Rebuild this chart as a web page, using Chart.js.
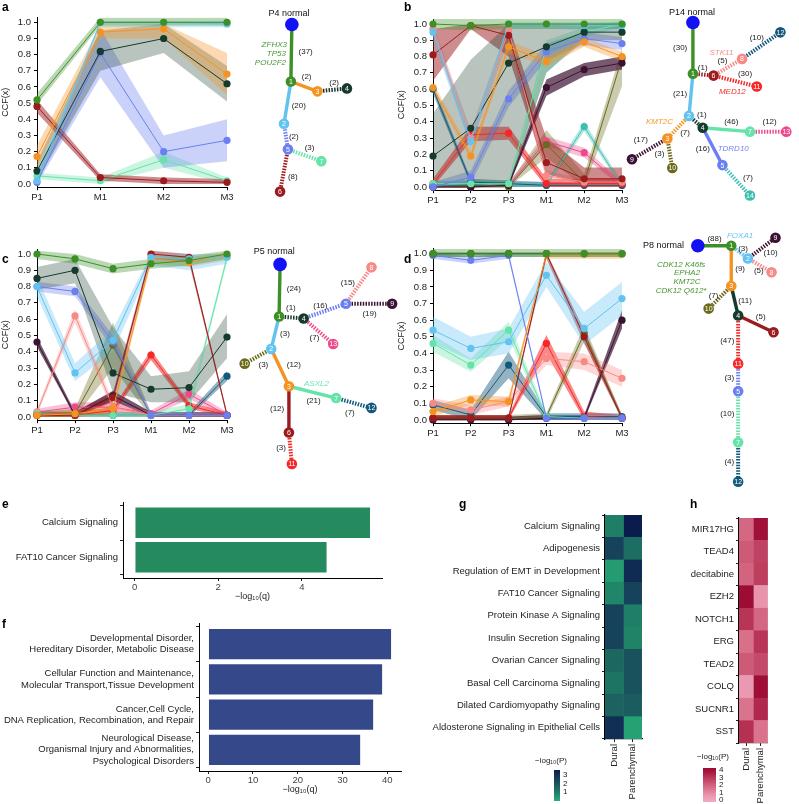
<!DOCTYPE html>
<html>
<head>
<meta charset="utf-8">
<script src="https://cdn.jsdelivr.net/npm/chart.js@4.4.1/dist/chart.umd.min.js"></script>
<style>
  body { margin: 0; width: 799px; height: 804px; position: relative; background: #fff; overflow: hidden;
         font-family: "Liberation Sans", Arial, sans-serif; }
  canvas { position: absolute; }
  .tag { position: absolute; font-weight: bold; font-size: 12px; color: #000; }
  .leg { position: absolute; font-size: 8px; color: #222; }
  .bar { position: absolute; }
</style>
</head>
<body>
<canvas id="ca" width="235" height="204" style="left:0;top:0"></canvas>
<canvas id="cb" width="234" height="207" style="left:396px;top:0"></canvas>
<canvas id="cc" width="235" height="197" style="left:0;top:240px"></canvas>
<canvas id="cd" width="234" height="200" style="left:396px;top:240px"></canvas>
<canvas id="ce" width="387" height="112" style="left:0;top:490px"></canvas>
<canvas id="cf" width="406" height="180" style="left:0;top:615px"></canvas>
<canvas id="cg" width="250" height="299" style="left:400px;top:505px"></canvas>
<canvas id="ch" width="126" height="299" style="left:650px;top:505px"></canvas>
<canvas id="trees" width="799" height="804" style="left:0;top:0;pointer-events:none"></canvas>

<div class="tag" style="left:2px;top:0">a</div>
<div class="tag" style="left:404px;top:0">b</div>
<div class="tag" style="left:2px;top:252px">c</div>
<div class="tag" style="left:404px;top:252px">d</div>
<div class="tag" style="left:2px;top:497px">e</div>
<div class="tag" style="left:2px;top:617px">f</div>
<div class="tag" style="left:459px;top:497px">g</div>
<div class="tag" style="left:690px;top:497px">h</div>

<div class="leg" style="left:535px;top:756px">−log₁₀(P)</div>
<div class="bar" id="gbar" style="left:554px;top:770px;width:6px;height:31px"></div>
<div class="leg" style="left:563px;top:771px;line-height:8.5px">3<br>2<br>1</div>
<div class="leg" style="left:697px;top:752px">−log₁₀(P)</div>
<div class="bar" id="hbar" style="left:703px;top:768px;width:13px;height:34px"></div>
<div class="leg" style="left:719px;top:766px;line-height:7.6px">4<br>3<br>2<br>1<br>0</div>

<script>
Chart.defaults.font.family = "'Liberation Sans', Arial, sans-serif";
Chart.defaults.color = "#222";
Chart.defaults.animation = false;

// clone colours shared by all four patients
const cloneColor = {
  N: "#1212f2", 1: "#3d8f27", 2: "#62c3f0", 3: "#f59322", 4: "#163a2b", 5: "#6a7ff2",
  6: "#9c1b1e", 7: "#66e3a9", 8: "#f88a86", 9: "#3c1232", 10: "#6b6a1c", 11: "#f52727",
  12: "#14597b", 13: "#ee4a8b", 14: "#3dbfb0"
};

// ---------- panel a : P4 ----------
const samplesA = ["P1", "M1", "M2", "M3"];
const clonesA = [1, 2, 3, 4, 5, 6, 7];
const ccfA = [
  [0.52, 1.00, 1.00, 1.00],
  [0.02, 1.00, 1.00, 0.99],
  [0.17, 0.94, 0.96, 0.68],
  [0.08, 0.82, 0.90, 0.62],
  [0.01, 0.81, 0.20, 0.27],
  [0.48, 0.04, 0.02, 0.01],
  [0.05, 0.02, 0.15, 0.02]
];
const loA = [
  [0.49, 0.98, 0.98, 0.98],
  [0.00, 0.97, 0.97, 0.97],
  [0.10, 0.90, 0.90, 0.55],
  [0.02, 0.70, 0.81, 0.51],
  [0.00, 0.66, 0.10, 0.14],
  [0.44, 0.02, 0.00, 0.00],
  [0.03, 0.00, 0.10, 0.00]
];
const hiA = [
  [0.56, 1.03, 1.03, 1.03],
  [0.06, 1.01, 1.01, 1.01],
  [0.24, 0.98, 0.99, 0.81],
  [0.14, 0.95, 0.99, 0.73],
  [0.05, 0.96, 0.30, 0.40],
  [0.52, 0.06, 0.04, 0.03],
  [0.07, 0.04, 0.20, 0.04]
];

// ---------- panel b : P14 ----------
const samplesB = ["P1", "P2", "P3", "M1", "M2", "M3"];
const clonesB = [1, 2, 3, 4, 5, 6, 7, 8, 9, 10, 11, 12, 13, 14];
const ccfB = [
  [1.00, 0.99, 1.00, 1.00, 1.00, 1.00],
  [0.95, 0.28, 1.00, 1.00, 0.99, 0.99],
  [0.61, 0.19, 0.86, 0.77, 0.89, 0.80],
  [0.19, 0.36, 0.76, 0.86, 0.95, 0.95],
  [0.00, 0.06, 0.54, 0.83, 0.91, 0.88],
  [0.81, 0.99, 0.93, 0.15, 0.05, 0.05],
  [0.02, 0.02, 0.02, 0.86, 0.95, 1.00],
  [0.97, 0.30, 0.96, 0.07, 0.03, 0.03],
  [0.00, 0.00, 0.01, 0.61, 0.72, 0.76],
  [0.00, 0.00, 0.00, 0.26, 0.03, 0.79],
  [0.02, 0.32, 0.33, 0.02, 0.02, 0.02],
  [0.60, 0.03, 0.02, 0.01, 0.01, 0.01],
  [0.00, 0.00, 0.01, 0.28, 0.21, 0.01],
  [0.01, 0.02, 0.01, 0.01, 0.37, 0.01]
];
const loB = [
  [0.97, 0.96, 0.97, 0.97, 0.97, 0.97],
  [0.90, 0.24, 0.97, 0.97, 0.96, 0.96],
  [0.58, 0.16, 0.82, 0.74, 0.86, 0.77],
  [0.00, 0.00, 0.00, 0.70, 0.90, 0.90],
  [0.00, 0.02, 0.49, 0.78, 0.87, 0.84],
  [0.65, 0.97, 0.80, 0.08, 0.02, 0.02],
  [0.00, 0.00, 0.00, 0.70, 0.92, 0.98],
  [0.92, 0.25, 0.90, 0.04, 0.01, 0.01],
  [0.00, 0.00, 0.00, 0.56, 0.68, 0.72],
  [0.00, 0.00, 0.00, 0.18, 0.00, 0.62],
  [0.00, 0.28, 0.29, 0.00, 0.00, 0.00],
  [0.57, 0.01, 0.00, 0.00, 0.00, 0.00],
  [0.00, 0.00, 0.00, 0.25, 0.18, 0.00],
  [0.00, 0.00, 0.00, 0.00, 0.34, 0.00]
];
const hiB = [
  [1.03, 1.03, 1.03, 1.03, 1.03, 1.03],
  [0.99, 0.33, 1.01, 1.01, 1.01, 1.01],
  [0.64, 0.22, 0.90, 0.80, 0.92, 0.83],
  [0.45, 0.78, 1.00, 1.00, 1.00, 1.00],
  [0.03, 0.10, 0.59, 0.88, 0.95, 0.92],
  [0.97, 1.00, 0.99, 0.30, 0.12, 0.12],
  [0.04, 0.04, 0.04, 0.90, 0.98, 1.02],
  [1.00, 0.35, 1.00, 0.10, 0.05, 0.05],
  [0.02, 0.02, 0.03, 0.66, 0.76, 0.80],
  [0.02, 0.02, 0.02, 0.35, 0.08, 0.85],
  [0.05, 0.37, 0.37, 0.05, 0.05, 0.05],
  [0.63, 0.05, 0.04, 0.03, 0.03, 0.03],
  [0.02, 0.02, 0.03, 0.31, 0.24, 0.03],
  [0.03, 0.04, 0.03, 0.03, 0.40, 0.03]
];

// ---------- panel c : P5 ----------
const samplesC = ["P1", "P2", "P3", "M1", "M2", "M3"];
const clonesC = [1, 2, 3, 4, 5, 6, 7, 8, 9, 10, 11, 12, 13];
const ccfC = [
  [1.00, 0.97, 0.91, 0.94, 0.96, 1.00],
  [0.80, 0.27, 0.47, 0.98, 0.97, 0.98],
  [0.01, 0.02, 0.05, 0.97, 0.95, 0.99],
  [0.85, 0.90, 0.27, 0.17, 0.18, 0.49],
  [0.80, 0.77, 0.46, 0.01, 0.01, 0.01],
  [0.01, 0.01, 0.12, 1.00, 0.98, 0.01],
  [0.02, 0.01, 0.01, 0.01, 0.05, 0.98],
  [0.03, 0.62, 0.06, 0.01, 0.01, 0.01],
  [0.46, 0.01, 0.13, 0.01, 0.01, 0.01],
  [0.01, 0.02, 0.44, 0.01, 0.01, 0.01],
  [0.01, 0.01, 0.04, 0.38, 0.07, 0.01],
  [0.02, 0.01, 0.01, 0.01, 0.01, 0.25],
  [0.03, 0.06, 0.06, 0.02, 0.14, 0.01]
];
const loC = [
  [0.97, 0.94, 0.88, 0.91, 0.93, 0.97],
  [0.74, 0.22, 0.40, 0.93, 0.90, 0.94],
  [0.00, 0.00, 0.02, 0.94, 0.92, 0.96],
  [0.78, 0.82, 0.15, 0.09, 0.09, 0.36],
  [0.77, 0.74, 0.42, 0.00, 0.00, 0.00],
  [0.00, 0.00, 0.09, 0.97, 0.95, 0.00],
  [0.00, 0.00, 0.00, 0.00, 0.02, 0.95],
  [0.01, 0.58, 0.03, 0.00, 0.00, 0.00],
  [0.43, 0.00, 0.10, 0.00, 0.00, 0.00],
  [0.00, 0.00, 0.30, 0.00, 0.00, 0.00],
  [0.00, 0.00, 0.02, 0.35, 0.05, 0.00],
  [0.00, 0.00, 0.00, 0.00, 0.00, 0.22],
  [0.01, 0.03, 0.03, 0.00, 0.11, 0.00]
];
const hiC = [
  [1.02, 1.00, 0.94, 0.97, 0.99, 1.02],
  [0.86, 0.33, 0.54, 1.00, 1.00, 1.00],
  [0.03, 0.04, 0.08, 1.00, 0.98, 1.01],
  [0.92, 0.97, 0.55, 0.25, 0.28, 0.63],
  [0.83, 0.80, 0.50, 0.03, 0.03, 0.03],
  [0.03, 0.03, 0.15, 1.02, 1.00, 0.03],
  [0.04, 0.03, 0.03, 0.03, 0.08, 1.00],
  [0.05, 0.66, 0.09, 0.03, 0.03, 0.03],
  [0.49, 0.03, 0.16, 0.03, 0.03, 0.03],
  [0.03, 0.05, 0.58, 0.03, 0.03, 0.03],
  [0.03, 0.03, 0.06, 0.41, 0.09, 0.03],
  [0.04, 0.03, 0.03, 0.03, 0.03, 0.28],
  [0.05, 0.09, 0.09, 0.04, 0.17, 0.03]
];

// ---------- panel d : P8 ----------
const samplesD = ["P1", "P2", "P3", "M1", "M2", "M3"];
const clonesD = [1, 2, 3, 4, 5, 6, 7, 8, 9, 10, 11, 12];
const ccfD = [
  [1.00, 1.00, 1.00, 1.00, 1.00, 1.00],
  [0.54, 0.43, 0.47, 0.87, 0.55, 0.73],
  [0.05, 0.12, 0.11, 1.00, 1.00, 1.00],
  [1.00, 1.00, 1.00, 1.00, 1.00, 1.00],
  [0.99, 0.96, 0.99, 0.01, 0.01, 0.01],
  [0.01, 0.01, 0.01, 1.00, 0.50, 0.01],
  [0.46, 0.33, 0.54, 0.02, 0.01, 0.01],
  [0.10, 0.06, 0.11, 0.37, 0.35, 0.25],
  [0.00, 0.00, 0.00, 0.01, 0.01, 0.60],
  [0.01, 0.01, 0.01, 0.02, 0.52, 0.01],
  [0.01, 0.01, 0.01, 0.46, 0.02, 0.01],
  [0.09, 0.03, 0.33, 0.02, 0.02, 0.02]
];
const loD = [
  [0.98, 0.98, 0.98, 0.98, 0.98, 0.98],
  [0.46, 0.36, 0.40, 0.80, 0.45, 0.63],
  [0.02, 0.09, 0.08, 0.97, 0.97, 0.97],
  [0.98, 0.98, 0.98, 0.98, 0.98, 0.98],
  [0.97, 0.94, 0.97, 0.00, 0.00, 0.00],
  [0.00, 0.00, 0.00, 0.97, 0.46, 0.00],
  [0.41, 0.29, 0.49, 0.00, 0.00, 0.00],
  [0.07, 0.03, 0.08, 0.33, 0.30, 0.20],
  [0.00, 0.00, 0.00, 0.00, 0.00, 0.55],
  [0.00, 0.00, 0.00, 0.00, 0.47, 0.00],
  [0.00, 0.00, 0.00, 0.40, 0.00, 0.00],
  [0.06, 0.00, 0.25, 0.00, 0.00, 0.00]
];
const hiD = [
  [1.03, 1.03, 1.03, 1.03, 1.03, 1.03],
  [0.62, 0.50, 0.55, 0.95, 0.65, 0.83],
  [0.08, 0.15, 0.14, 1.01, 1.01, 1.01],
  [1.01, 1.01, 1.01, 1.01, 1.01, 1.01],
  [1.01, 0.98, 1.01, 0.03, 0.03, 0.03],
  [0.03, 0.03, 0.03, 1.01, 0.54, 0.03],
  [0.51, 0.37, 0.59, 0.04, 0.03, 0.03],
  [0.13, 0.09, 0.14, 0.41, 0.40, 0.30],
  [0.02, 0.02, 0.02, 0.03, 0.03, 0.66],
  [0.03, 0.03, 0.03, 0.04, 0.57, 0.03],
  [0.03, 0.03, 0.03, 0.51, 0.05, 0.03],
  [0.12, 0.06, 0.41, 0.04, 0.04, 0.04]
];

// ---------- phylogenetic trees (node layout, edges with mutation counts) ----------
const treeANodes = { N: [290, 18], 1: [289, 76], 3: [316, 86], 4: [346, 83], 2: [282, 119], 5: [286, 145], 7: [320, 157], 6: [278, 188] };
const treeAEdges = [["N", 1, 37, "s"], [1, 3, 2, "s"], [3, 4, 2, "d"], [1, 2, 20, "s"], [2, 5, 2, "d"], [5, 7, 3, "d"], [5, 6, 8, "d"]];
const treeALabelAt = [[304, 46], [305, 71], [333, 77], [297, 101], [292, 132], [308, 143], [291, 173]];
const treeAGenes = [["ZFHX3", 1, 285, 39], ["TP53", 1, 284, 48], ["POU2F2", 1, 284, 57]];

const treeBNodes = { N: [698, 16], 1: [698, 68], 6: [719, 70], 8: [748, 53], 12: [787, 26], 11: [763, 81], 2: [694, 111], 4: [708, 123],
  7: [756, 127], 13: [793, 127], 3: [672, 134], 10: [677, 164], 9: [636, 155], 5: [728, 161], 14: [756, 192] };
const treeBEdges = [["N", 1, 30, "s"], [1, 6, 1, "d"], [6, 8, 5, "d"], [8, 12, 10, "d"], [6, 11, 30, "d"], [1, 2, 21, "s"], [2, 4, 1, "d"],
  [4, 7, 46, "s"], [7, 13, 12, "d"], [2, 3, 7, "d"], [3, 9, 17, "d"], [3, 10, 3, "d"], [4, 5, 16, "s"], [5, 14, 7, "d"]];
const treeBLabelAt = [[685, 42], [708, 62], [728, 55], [763, 32], [751, 68], [685, 88], [707, 110], [737, 117], [776, 117], [690, 128],
  [645, 135], [664, 150], [708, 144], [754, 174]];
const treeBGenes = [["STK11", 8, 727, 47], ["MED12", 11, 738, 86], ["KMT2C", 3, 664, 117], ["TDRD10", 5, 739, 144]];

const treeCNodes = { N: [278, 262], 1: [277, 315], 4: [302, 317], 5: [345, 302], 8: [371, 265], 9: [392, 302], 13: [332, 343], 2: [269, 348],
  10: [242, 363], 3: [287, 386], 7: [335, 398], 12: [371, 408], 6: [287, 433], 11: [290, 465] };
const treeCEdges = [["N", 1, 24, "s"], [1, 4, 1, "d"], [4, 5, 16, "d"], [5, 8, 15, "d"], [5, 9, 19, "d"], [4, 13, 7, "d"], [1, 2, 3, "s"],
  [2, 10, 3, "d"], [2, 3, 12, "s"], [3, 7, 21, "s"], [7, 12, 7, "d"], [3, 6, 12, "s"], [6, 11, 3, "d"]];
const treeCLabelAt = [[292, 287], [289, 306], [319, 304], [347, 281], [369, 312], [313, 337], [283, 333], [261, 364], [292, 364],
  [312, 401], [349, 413], [275, 409], [279, 449]];
const treeCGenes = [["ASXL2", 7, 315, 383]];

const treeDNodes = { N: [703, 243], 1: [737, 243], 2: [754, 256], 9: [782, 235], 8: [778, 270], 3: [737, 284], 10: [714, 307],
  4: [744, 314], 6: [780, 331], 11: [744, 363], 5: [744, 391], 7: [744, 443], 12: [744, 483] };
const treeDEdges = [["N", 1, 88, "s"], [1, 2, 3, "d"], [2, 9, 10, "d"], [2, 8, 5, "d"], [1, 3, 9, "s"], [3, 10, 7, "d"], [3, 4, 11, "s"],
  [4, 6, 5, "s"], [4, 11, 47, "d"], [11, 5, 3, "d"], [5, 7, 10, "d"], [7, 12, 4, "d"]];
const treeDLabelAt = [[720, 236], [749, 246], [777, 250], [765, 269], [746, 266], [719, 294], [751, 299], [767, 315], [733, 340],
  [735, 377], [733, 414], [735, 463]];
const treeDGenes = [["FOXA1", 2, 746, 233], ["CDK12 K46fs", 1, 686, 262], ["EPHA2", 1, 692, 271], ["KMT2C", 1, 692, 280], ["CDK12 Q612*", 1, 686, 289]];

const trees = [
  { nodes: treeANodes, edges: treeAEdges, at: treeALabelAt, genes: treeAGenes, title: "P4 normal" },
  { nodes: treeBNodes, edges: treeBEdges, at: treeBLabelAt, genes: treeBGenes, title: "P14 normal" },
  { nodes: treeCNodes, edges: treeCEdges, at: treeCLabelAt, genes: treeCGenes, title: "P5 normal" },
  { nodes: treeDNodes, edges: treeDEdges, at: treeDLabelAt, genes: treeDGenes, title: "P8 normal" }
];
const treeTitleAt = [[287, 7], [697, 6], [272, 249], [668, 243]];

// ---------- panel e / f : pathway bars ----------
const eTerms = ["Calcium Signaling", "FAT10 Cancer Signaling"];
const eScores = [5.64, 4.6];
const fTerms = [
  ["Developmental Disorder,", "Hereditary Disorder, Metabolic Disease"],
  ["Cellular Function and Maintenance,", "Molecular Transport,Tissue Development"],
  ["Cancer,Cell Cycle,", "DNA Replication, Recombination, and Repair"],
  ["Neurological Disease,", "Organismal Injury and Abnormalities,", "Psychological Disorders"]
];
const fScores = [40.9, 38.9, 36.9, 34.0];

// ---------- panel g / h : heatmaps ----------
const heatCols = ["Dural", "Parenchymal"];
const gRows = ["Calcium Signaling", "Adipogenesis", "Regulation of EMT in Development", "FAT10 Cancer Signaling",
  "Protein Kinase A Signaling", "Insulin Secretion Signaling", "Ovarian Cancer Signaling", "Basal Cell Carcinoma Signaling",
  "Dilated Cardiomyopathy Signaling", "Aldosterone Signaling in Epithelial Cells"];
const gDural = [1.5, 2.6, 1.1, 1.4, 2.6, 2.6, 1.9, 1.7, 2.0, 3.0];
const gParen = [3.4, 1.8, 3.1, 2.6, 1.5, 1.45, 2.3, 2.3, 2.1, 1.0];
const hRows = ["MIR17HG", "TEAD4", "decitabine", "EZH2", "NOTCH1", "ERG", "TEAD2", "COLQ", "SUCNR1", "SST"];
const hDural = [2.1, 2.4, 2.2, 4.5, 3.3, 1.9, 2.4, 0.7, 1.8, 3.4];
const hParen = [4.3, 3.0, 3.1, 0.9, 2.1, 3.3, 2.8, 4.4, 3.6, 1.8];

// ----------------------------------------------------------------
function rgba(hex, a) {
  const n = parseInt(hex.slice(1), 16);
  return `rgba(${n >> 16},${(n >> 8) & 255},${n & 255},${a})`;
}
const bandAlpha = { 4: 0.3, 6: 0.5, 9: 0.7, 11: 0.55, 12: 0.45 };

function ccfChart(id, samples, clones, ccf, lo, hi, padTop) {
  const datasets = [];
  clones.forEach((c, i) => {
    datasets.push({ data: ccf[i], borderColor: cloneColor[c], backgroundColor: cloneColor[c], borderWidth: 1,
      pointRadius: 3.6, pointBorderWidth: 0, fill: false, clip: false, tension: 0 });
  });
  clones.forEach((c, i) => {
    datasets.push({ data: hi[i], borderColor: "rgba(0,0,0,0)", pointRadius: 0, fill: false, clip: false });
    datasets.push({ data: lo[i], borderColor: "rgba(0,0,0,0)", pointRadius: 0, fill: "-1", clip: false,
      backgroundColor: rgba(cloneColor[c], bandAlpha[c] || 0.35) });
  });
  new Chart(document.getElementById(id), {
    type: "line",
    data: { labels: samples, datasets },
    options: {
      responsive: false,
      layout: { padding: { top: padTop, right: 8, left: 0, bottom: 0 } },
      plugins: { legend: { display: false }, tooltip: { enabled: false }, filler: { drawTime: "beforeDatasetsDraw" } },
      scales: {
        x: {
          offset: false,
          grid: { drawOnChartArea: false, tickLength: 3, color: "#000" },
          border: { color: "#000" },
          ticks: { font: { size: 9.5 }, padding: 1, color: "#222" },
          afterFit: (s) => { s.height = 16.8; }
        },
        y: {
          min: -0.02, max: 1.03,
          grid: { drawOnChartArea: false, tickLength: 3, color: "#000" },
          border: { color: "#000" },
          ticks: { stepSize: 0.1, includeBounds: false, font: { size: 9.5 }, padding: 3, color: "#222",
            callback: (v) => v.toFixed(1) },
          title: { display: true, text: "CCF(x)", font: { size: 9 }, padding: 0 },
          afterFit: (s) => { s.width = 37; }
        }
      }
    }
  });
}
ccfChart("ca", samplesA, clonesA, ccfA, loA, hiA, 17.5);
ccfChart("cb", samplesB, clonesB, ccfB, loB, hiB, 19.1);
ccfChart("cc", samplesC, clonesC, ccfC, loC, hiC, 9.1);
ccfChart("cd", samplesD, clonesD, ccfD, loD, hiD, 8);

// ---------- trees ----------
const treeSets = [];
const nodePts = [], nodeR = [], nodeCol = [], nodeIds = [];
trees.forEach((t) => {
  Object.entries(t.nodes).forEach(([id, p]) => {
    nodePts.push({ x: p[0], y: p[1] });
    nodeR.push(id === "N" ? 6.8 : 5.3);
    nodeCol.push(cloneColor[id]);
    nodeIds.push(id);
  });
});
treeSets.push({ data: nodePts, pointRadius: nodeR, pointBackgroundColor: nodeCol, pointBorderWidth: 0, showLine: false });
trees.forEach((t) => {
  t.edges.forEach(([a, b, n, style]) => {
    treeSets.push({
      data: [{ x: t.nodes[a][0], y: t.nodes[a][1] }, { x: t.nodes[b][0], y: t.nodes[b][1] }],
      showLine: true, pointRadius: 0, borderColor: cloneColor[b],
      borderWidth: style === "s" ? 3.4 : 4, borderDash: style === "s" ? [] : [1.5, 1.3], borderCapStyle: "butt"
    });
  });
});

const treeText = {
  id: "treeText",
  afterDatasetsDraw(chart) {
    const { ctx, scales: { x, y } } = chart;
    ctx.save();
    ctx.textBaseline = "middle";
    // node numbers
    ctx.fillStyle = "#fff";
    ctx.font = "7px 'Liberation Sans', Arial";
    ctx.textAlign = "center";
    nodePts.forEach((p, i) => {
      if (nodeIds[i] !== "N") ctx.fillText(nodeIds[i], x.getPixelForValue(p.x), y.getPixelForValue(p.y) + 0.5);
    });
    trees.forEach((t, k) => {
      ctx.fillStyle = "#222";
      ctx.font = "8px 'Liberation Sans', Arial";
      ctx.textAlign = "center";
      t.edges.forEach((e, i) => {
        ctx.fillText("(" + e[2] + ")", x.getPixelForValue(t.at[i][0]), y.getPixelForValue(t.at[i][1]));
      });
      ctx.font = "italic 8px 'Liberation Sans', Arial";
      t.genes.forEach(([g, c, gx, gy]) => {
        ctx.fillStyle = rgba(cloneColor[c], 0.95);
        ctx.fillText(g, x.getPixelForValue(gx) - (k === 0 ? ctx.measureText(g).width / 2 : 0), y.getPixelForValue(gy));
      });
      ctx.fillStyle = "#111";
      ctx.font = "9px 'Liberation Sans', Arial";
      ctx.fillText(t.title, x.getPixelForValue(treeTitleAt[k][0]), y.getPixelForValue(treeTitleAt[k][1]));
    });
    ctx.restore();
  }
};

new Chart(document.getElementById("trees"), {
  type: "scatter",
  data: { datasets: treeSets },
  options: {
    responsive: false, events: [],
    layout: { padding: 0 },
    plugins: { legend: { display: false }, tooltip: { enabled: false } },
    scales: {
      x: { type: "linear", min: 0, max: 799, display: false },
      y: { type: "linear", min: 0, max: 804, reverse: true, display: false }
    }
  },
  plugins: [treeText]
});

// ---------- bar panels ----------
function termBars(id, terms, scores, color, xmin, xmax, xticks, yWidth, padTop) {
  new Chart(document.getElementById(id), {
    type: "bar",
    data: {
      datasets: [{
        data: scores.map((s, i) => ({ x: s, y: i + 1 })),
        backgroundColor: color, borderColor: "#fff", borderWidth: 0.6, borderSkipped: false,
        barThickness: 31
      }]
    },
    options: {
      responsive: false, indexAxis: "y",
      layout: { padding: { top: padTop, right: 5 } },
      plugins: { legend: { display: false }, tooltip: { enabled: false } },
      scales: {
        y: {
          type: "linear", reverse: true, offset: false, min: 0.4, max: terms.length + 0.6,
          afterBuildTicks: (s) => { s.ticks = terms.map((t, i) => ({ value: i + 1 })); },
          grid: { drawOnChartArea: false, tickLength: 3, color: "#222" },
          border: { color: "#000" },
          ticks: { font: { size: 9.5 }, color: "#222", padding: 2, autoSkip: false, callback: (v) => terms[v - 1] },
          afterFit: (s) => { s.width = yWidth; s.paddingTop = 0; s.paddingBottom = 0; }
        },
        x: {
          type: "linear", min: xmin, max: xmax,
          afterBuildTicks: (s) => { s.ticks = xticks.map((v) => ({ value: v })); },
          grid: { drawOnChartArea: false, tickLength: 3, color: "#222" },
          border: { color: "#000" },
          ticks: { font: { size: 9.5 }, color: "#444", padding: 1 },
          title: { display: true, text: "−log₁₀(q)", font: { size: 9 }, padding: 0, color: "#222" },
          afterFit: (s) => { s.height = 24; s.paddingLeft = 0; s.paddingRight = 0; }
        }
      }
    }
  });
}
termBars("ce", eTerms, eScores, "#258b5e", -0.28, 5.92, [0, 2, 4], 123, 12);
termBars("cf", fTerms, fScores, "#35488a", -2.05, 43.05, [0, 10, 20, 30, 40], 199, 8);

// ---------- heatmaps ----------
const gStops = [[0.8, [40, 176, 122]], [1.5, [31, 127, 102]], [2.2, [26, 87, 93]], [2.8, [20, 57, 90]], [3.4, [10, 28, 76]]];
const hStops = [[0, [243, 172, 196]], [1, [232, 145, 170]], [2, [214, 108, 134]], [3, [192, 66, 98]], [4, [166, 22, 62]], [4.5, [156, 12, 52]]];
function ramp(stops, v) {
  if (v <= stops[0][0]) return `rgb(${stops[0][1].join(",")})`;
  for (let i = 1; i < stops.length; i++) {
    if (v <= stops[i][0]) {
      const [v0, c0] = stops[i - 1], [v1, c1] = stops[i];
      const t = (v - v0) / (v1 - v0);
      return `rgb(${c0.map((c, k) => Math.round(c + (c1[k] - c) * t)).join(",")})`;
    }
  }
  return `rgb(${stops[stops.length - 1][1].join(",")})`;
}
function gradient(stops) {
  const a = stops[0][0], b = stops[stops.length - 1][0];
  return "linear-gradient(to top," + stops.map(([v, c]) => `rgb(${c.join(",")}) ${((v - a) / (b - a) * 100).toFixed(0)}%`).join(",") + ")";
}
document.getElementById("gbar").style.background = gradient(gStops);
document.getElementById("hbar").style.background = gradient(hStops);

function heatmap(id, rows, dural, paren, stops, yWidth, padTop, xHeight) {
  const cell = (vals, lo) => ({
    data: vals.map(() => [lo, lo + 1]),
    backgroundColor: vals.map((v) => ramp(stops, v)),
    borderColor: vals.map((v) => ramp(stops, v)),
    borderWidth: 0.4, borderSkipped: false, grouped: false,
    barPercentage: 1, categoryPercentage: 1
  });
  new Chart(document.getElementById(id), {
    type: "bar",
    data: { labels: rows, datasets: [cell(dural, 0), cell(paren, 1)] },
    options: {
      responsive: false, indexAxis: "y",
      layout: { padding: { top: padTop, right: 8 } },
      plugins: { legend: { display: false }, tooltip: { enabled: false } },
      scales: {
        y: {
          grid: { drawOnChartArea: false, tickLength: 3, color: "#222" },
          border: { color: "#000", width: 1.2 },
          ticks: { font: { size: 9.5 }, color: "#222", padding: 2 },
          afterFit: (s) => { s.width = yWidth; }
        },
        x: {
          type: "linear", min: 0, max: 2,
          afterBuildTicks: (s) => { s.ticks = [{ value: 0.5 }, { value: 1.5 }]; },
          grid: { drawOnChartArea: false, tickLength: 3, color: "#222" },
          border: { color: "#000", width: 1.2 },
          ticks: { font: { size: 9.5 }, color: "#222", minRotation: 90, maxRotation: 90, padding: 2,
            callback: (v) => heatCols[Math.floor(v)] },
          afterFit: (s) => { s.height = xHeight; }
        }
      }
    }
  });
}
heatmap("cg", gRows, gDural, gParen, gStops, 205, 10, 65);
heatmap("ch", hRows, hDural, hParen, hStops, 89, 13, 61);
</script>
</body>
</html>
